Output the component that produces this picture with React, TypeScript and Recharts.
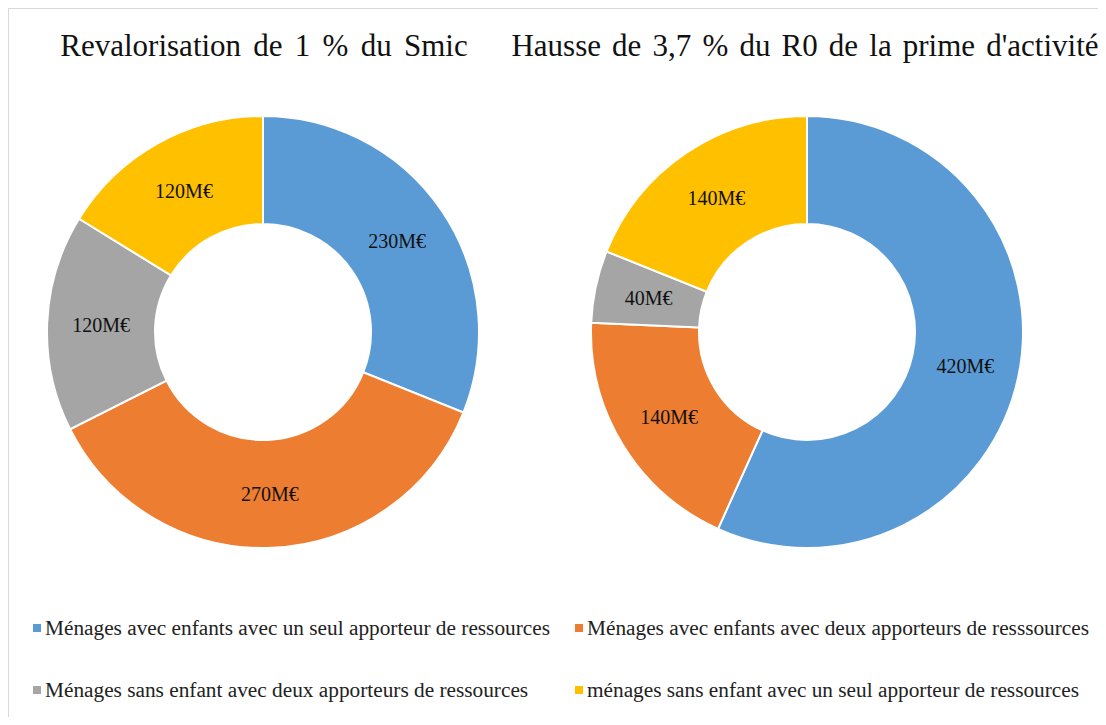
import React from "react";
import { PieChart, Pie, Cell, Legend } from "recharts";

const categories = [
  "Ménages avec enfants avec un seul apporteur de ressources",
  "Ménages avec enfants avec deux apporteurs de resssources",
  "Ménages sans enfant avec deux apporteurs de ressources",
  "ménages sans enfant avec un seul apporteur de ressources",
];
const smicValues = [230, 270, 120, 120];
const primeValues = [420, 140, 40, 140];
const titles = ["Revalorisation de 1 % du Smic", "Hausse de 3,7 % du R0 de la prime d'activité"];
const colors = ["#5B9BD5", "#ED7D31", "#A5A5A5", "#FFC000"];

const smicData = categories.map((name, i) => ({ name, value: smicValues[i] }));
const primeData = categories.map((name, i) => ({ name, value: primeValues[i] }));

const FONT = "Liberation Serif, DejaVu Serif";
const RAD = Math.PI / 180;

const renderLabel = (p: any) => {
  const r = (p.innerRadius + p.outerRadius) / 2;
  const x = p.cx + r * Math.cos(-p.midAngle * RAD);
  const y = p.cy + r * Math.sin(-p.midAngle * RAD);
  return (
    <text x={x} y={y} textAnchor="middle" dominantBaseline="central" fill="#111" style={{ fontFamily: FONT, fontSize: 20 }}>
      {p.value}M€
    </text>
  );
};

const legendContent = () => (
  <div style={{ position: "relative", width: 1098, height: 100, fontFamily: FONT, fontSize: 21.3, color: "#222", lineHeight: "24px" }}>
    {categories.map((c, i) => (
      <div
        key={c}
        style={{
          position: "absolute",
          left: i % 2 === 0 ? 24 : 566,
          top: i < 2 ? 0 : 62,
          display: "flex",
          alignItems: "center",
          whiteSpace: "nowrap",
        }}
      >
        <span style={{ display: "inline-block", width: 8, height: 8, background: colors[i], marginRight: 4 }} />
        <span>{c}</span>
      </div>
    ))}
  </div>
);

export default function App() {
  return (
    <div
      style={{
        width: 1098,
        height: 709,
        boxSizing: "border-box",
        borderTop: "1px solid #d9d9d9",
        borderLeft: "1px solid #d9d9d9",
        background: "#fff",
        overflow: "hidden",
        fontFamily: FONT,
      }}
    >
      <PieChart width={1097} height={708} margin={{ top: 0, right: 0, bottom: 0, left: 0 }} style={{ fontFamily: FONT }}>
        <text x={255} y={47} textAnchor="middle" fill="#111" style={{ fontFamily: FONT, fontSize: 31, wordSpacing: 4.5 }}>
          {titles[0]}
        </text>
        <text x={796} y={47} textAnchor="middle" fill="#111" style={{ fontFamily: FONT, fontSize: 31, wordSpacing: 3.4 }}>
          {titles[1]}
        </text>
        <Pie
          data={smicData}
          dataKey="value"
          nameKey="name"
          cx={254}
          cy={323}
          innerRadius={108}
          outerRadius={216}
          startAngle={90}
          endAngle={-270}
          stroke="#fff"
          strokeWidth={2}
          label={renderLabel}
          labelLine={false}
          isAnimationActive={false}
        >
          {smicData.map((d, i) => (
            <Cell key={d.name} fill={colors[i]} />
          ))}
        </Pie>
        <Pie
          data={primeData}
          dataKey="value"
          nameKey="name"
          cx={798}
          cy={323}
          innerRadius={108}
          outerRadius={216}
          startAngle={90}
          endAngle={-270}
          stroke="#fff"
          strokeWidth={2}
          label={renderLabel}
          labelLine={false}
          isAnimationActive={false}
        >
          {primeData.map((d, i) => (
            <Cell key={d.name} fill={colors[i]} />
          ))}
        </Pie>
        <Legend content={legendContent} wrapperStyle={{ left: 0, top: 607, width: 1098 }} />
      </PieChart>
    </div>
  );
}
